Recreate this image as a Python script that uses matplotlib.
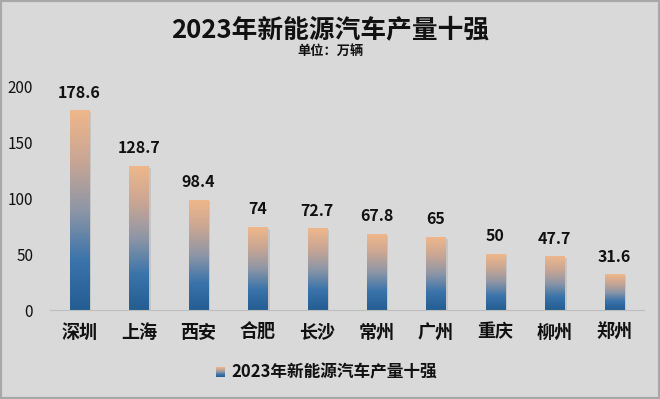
import numpy as np
import matplotlib
matplotlib.use('Agg')
from matplotlib import pyplot as plt
from matplotlib.colors import LinearSegmentedColormap
from matplotlib.patches import Rectangle

plt.rcParams['font.family'] = ['Noto Sans CJK SC', 'DejaVu Sans']

cities = ['深圳', '上海', '西安', '合肥', '长沙', '常州', '广州', '重庆', '柳州', '郑州']
output = [178.6, 128.7, 98.4, 74, 72.7, 67.8, 65, 50, 47.7, 31.6]
labels = ['178.6', '128.7', '98.4', '74', '72.7', '67.8', '65', '50', '47.7', '31.6']
title = '2023年新能源汽车产量十强'
unit = '单位：万辆'

cmap = LinearSegmentedColormap.from_list('bar', ['#235d92', '#3b74aa', '#8e96a6', '#c9a694', '#efb78a'])
grad = np.linspace(0, 1, 256).reshape(-1, 1)
bg = '#d9d9d9'

fig = plt.figure(figsize=(6.6, 3.99), dpi=100, facecolor=bg)
fig.patches.append(Rectangle((0, 0), 1, 1, transform=fig.transFigure,
                             fill=False, edgecolor='#a8a8a8', lw=3))
ax = fig.add_axes([0.0755, 0.223, 0.9, 0.559])
ax.set_facecolor(bg)

w = 0.32
for i, v in enumerate(output):
    # faint shadow on the right
    ax.add_patch(Rectangle((i - w / 2 + 0.04, 0), w, v - 1, color='#b8b8b8', alpha=0.6, lw=0, zorder=1))
    ax.imshow(grad, extent=[i - w / 2, i + w / 2, 0, v], origin='lower',
              aspect='auto', cmap=cmap, zorder=2, interpolation='bilinear')
    ax.text(i, v + 9, labels[i], ha='center', va='bottom', fontsize=11.5, fontweight='bold',
            color='#111111')

ax.set_xlim(-0.5, 9.5)
ax.set_ylim(0, 200)
ax.set_yticks([0, 50, 100, 150, 200])
ax.set_xticks(range(len(cities)))
ax.set_xticklabels(cities, fontsize=13, fontweight='bold')
ax.tick_params(axis='y', length=0, pad=12, labelsize=11, colors='#111111')
ax.tick_params(axis='x', length=0, pad=9, colors='#111111')
for s in ['top', 'right', 'left']:
    ax.spines[s].set_visible(False)
ax.spines['bottom'].set_color('#bdbdbd')

fig.text(0.5, 1 - 30 / 399, title, ha='center', va='center', fontsize=18.5, fontweight='bold', color='#111111')
fig.text(0.5, 1 - 51 / 399, unit, ha='center', va='center', fontsize=9.5, fontweight='bold', color='#111111')

# legend
lax = fig.add_axes([216 / 660, 1 - 377 / 399, 9 / 660, 10 / 399])
lax.imshow(grad, origin='lower', aspect='auto', cmap=cmap, extent=[0, 1, 0, 1])
lax.axis('off')
fig.text(231 / 660, 1 - 372 / 399, title, ha='left', va='center', fontsize=12, fontweight='bold',
         color='#111111')

plt.savefig('out.png', dpi=100, facecolor=bg)
